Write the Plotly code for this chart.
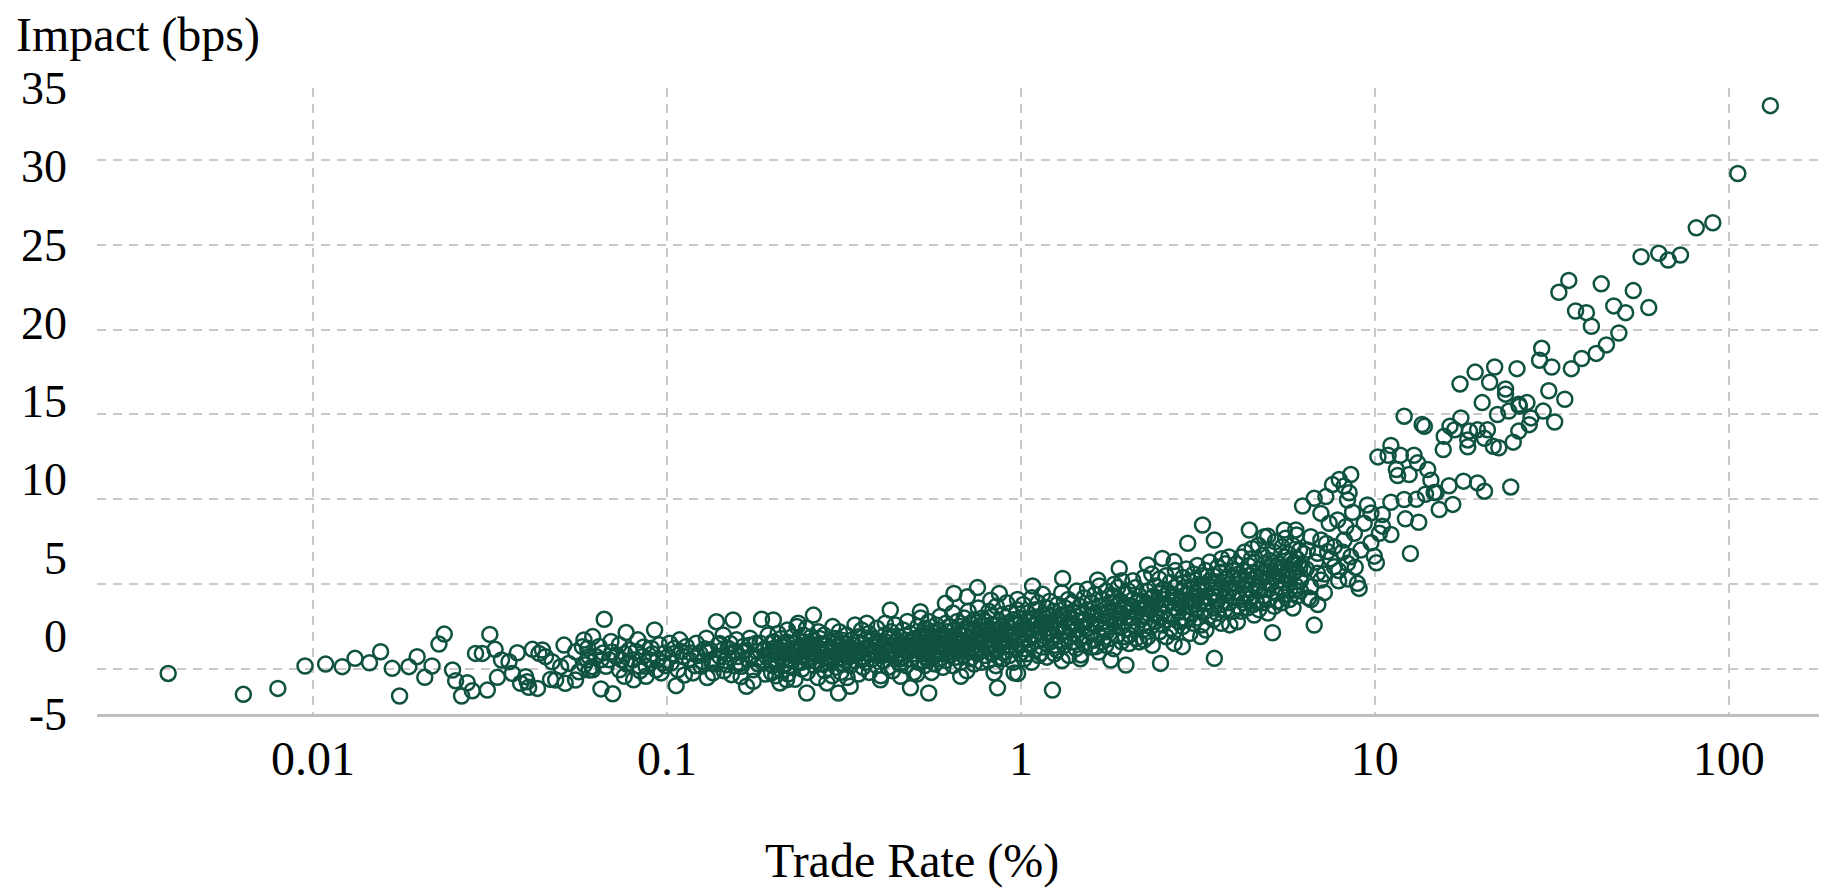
import plotly.graph_objects as go

# ---------------- data (trade rate %, impact bps) ----------------
sparse_left = [
    (0.0039, -0.26), (0.00636, -1.49), (0.00796, -1.14), (0.0095, 0.18), (0.01086, 0.29),
    (0.0121, 0.14), (0.01315, 0.63), (0.01445, 0.37), (0.01553, 1.02), (0.01675, 0.04),
    (0.01757, -1.59), (0.01867, 0.14), (0.0197, 0.73), (0.0207, -0.49), (0.0217, 0.18),
    (0.0227, 1.47), (0.0235, 2.06), (0.0248, -0.06), (0.0253, -0.69), (0.0263, -1.59),
    (0.0273, -0.81), (0.0282, -1.28), (0.0288, 0.92), (0.0301, 0.92), (0.0311, -1.24),
    (0.0316, 2.04), (0.0327, 1.16), (0.0332, -0.49), (0.0341, 0.53), (0.0358, 0.43),
    (0.0366, -0.26), (0.0378, 0.96), (0.0386, -0.84), (0.0399, -0.45), (0.0407, -1.08),
    (0.0417, 1.16), (0.0431, -1.14), (0.0445, 1.12), (0.0454, 0.73), (0.0469, -0.61),
    (0.0485, -0.65), (0.0501, 0.14), (0.0512, 1.41), (0.0528, 0.33), (0.0552, 1.02),
    (0.0564, -0.16), (0.0583, 1.71), (0.0596, 0.53), (0.0615, 0.14), (0.0435, 0.92),
    (0.0577, 1.32), (0.0603, -0.06), (0.0552, -0.65), (0.0516, -0.84), (0.0474, 0.43),
    (0.0403, -0.75),
]

band_a = [
    (0.0617, 1.91), (0.0597, 1.23), (0.0631, 0.74), (0.0585, 0.25), (0.0617, -0.04),
    (0.0665, 2.93), (0.0651, -1.17), (0.0703, -1.46), (0.0687, 0.55), (0.0734, -0.04),
    (0.0758, -0.43), (0.0767, 2.15), (0.0783, 1.13), (0.0801, 0.55), (0.0828, 1.72),
    (0.0855, 0.74), (0.0873, 0.16), (0.0903, 1.23), (0.0923, 2.30), (0.0942, 0.55),
    (0.0963, -0.23), (0.0985, 0.94), (0.0805, -0.63), (0.0873, -0.43), (0.0734, 1.43),
    (0.0695, 1.62), (0.0644, 1.33), (0.0673, 0.16), (0.0718, 0.74), (0.0836, 0.16),
    (0.0745, 0.55), (0.0894, 0.55), (0.0952, 1.43), (0.0974, 0.35), (0.0818, 1.04),
    (0.0933, -0.04), (0.0651, 0.55), (0.0603, 0.74), (0.0700, 1.0), (0.0770, 0.3),
    (0.0860, 1.3), (0.0910, 0.9), (0.0990, 0.2), (0.0760, 0.9), (0.0840, -0.1),
    (0.0660, 0.95),
]

band_b = [
    (0.1018, 1.52), (0.1051, 1.23), (0.1086, 1.72), (0.1110, 0.74), (0.1028, 0.35),
    (0.1074, -0.04), (0.1135, 1.33), (0.1159, 0.55), (0.1185, -0.23), (0.1211, 1.52),
    (0.1238, 0.94), (0.1250, 0.16), (0.1293, 1.82), (0.1322, 1.13), (0.1336, 0.55),
    (0.1350, -0.23), (0.1396, 1.43), (0.1411, 0.74), (0.1442, 2.01), (0.1473, 0.25),
    (0.1489, 1.23), (0.1521, -0.33), (0.1573, 1.72), (0.1589, 0.74), (0.1624, 0.16),
    (0.1641, 1.33), (0.1697, 0.55), (0.1715, 1.82), (0.1754, -0.04), (0.1792, 1.04),
    (0.1832, 1.52), (0.1871, 0.35), (0.1913, 0.74), (0.1933, 2.01), (0.1976, -0.23),
    (0.2020, 1.23), (0.2042, 0.55),
    (0.1380, 2.79), (0.1538, 2.89), (0.1851, 2.93), (0.1998, 2.89), (0.1062, -0.98),
    (0.1678, -1.02), (0.1754, -0.72), (0.2086, -0.82),
    (0.1100, 1.04), (0.1170, 0.94), (0.1260, 0.45), (0.1300, 1.0), (0.1430, 1.1),
    (0.1460, 0.5), (0.1550, 1.0), (0.1600, 0.3), (0.1660, 1.1), (0.1740, 0.8),
    (0.1810, 0.3), (0.1890, 1.2), (0.1950, 0.9), (0.1040, 0.9), (0.1200, 0.2),
    (0.1380, 0.3), (0.1510, 1.5), (0.1780, 1.5), (0.1990, 1.6), (0.1120, -0.35),
    (0.1300, -0.5), (0.1450, -0.1), (0.1620, -0.45), (0.1900, -0.3),
]

band_c = [
    (0.199, 0.2), (0.201, 1.6), (0.200, 0.9), (0.203, -0.4),
    (0.204, 1.1), (0.206, 2.1), (0.205, 0.4),
    (0.209, 0.7), (0.211, -0.1), (0.210, 1.8), (0.212, 1.3),
    (0.214, 1.5), (0.216, 0.3), (0.215, 0.9),
    (0.219, 2.3), (0.221, 1.0), (0.220, -0.3), (0.222, 0.6),
    (0.224, 0.1), (0.226, 1.9), (0.225, 1.2),
    (0.229, 0.8), (0.231, 1.5), (0.230, -0.6), (0.233, 2.5),
    (0.235, 1.3), (0.237, 0.4), (0.236, 1.0),
    (0.241, 0.0), (0.243, 2.0), (0.242, 0.7), (0.244, 1.6),
    (0.247, 1.1), (0.249, -0.2), (0.248, 2.4),
    (0.253, 0.5), (0.255, 1.4), (0.254, 0.9), (0.256, 1.9),
    (0.259, 1.7), (0.261, 0.2), (0.260, 1.0),
    (0.265, 0.8), (0.267, -0.5), (0.266, 1.3), (0.268, 2.2),
    (0.271, 1.5), (0.273, 0.3), (0.272, 0.9),
    (0.278, 2.0), (0.280, 1.1), (0.279, -0.1), (0.282, 0.6),
    (0.285, 0.4), (0.287, 1.6), (0.286, 1.2),
    (0.292, 1.0), (0.294, 2.5), (0.293, -0.4), (0.296, 0.7),
    (0.299, 1.8), (0.301, 0.1), (0.300, 1.3),
    (0.306, 0.6), (0.308, 1.1), (0.307, 2.2), (0.310, -0.2),
    (0.314, 1.5), (0.316, 0.3), (0.315, 0.9),
    (0.322, 2.0), (0.324, 1.2), (0.323, -0.5), (0.326, 0.7),
    (0.330, 0.2), (0.332, 1.7), (0.331, 1.0),
    (0.338, 1.4), (0.340, 2.6), (0.339, 0.5), (0.342, 0.9),
    (0.346, 1.1), (0.348, -0.3), (0.347, 1.9),
    (0.354, 0.7), (0.356, 1.5), (0.355, 2.3), (0.358, 0.1),
    (0.363, 1.2), (0.365, 0.4), (0.364, 1.7),
    (0.372, 2.1), (0.374, 0.9), (0.373, -0.2), (0.376, 1.4),
    (0.381, 0.6), (0.383, 1.8), (0.382, 1.1),
    (0.390, 1.3), (0.392, 2.4), (0.391, 0.2), (0.394, 0.8),
    (0.400, 1.6), (0.402, -0.4), (0.401, 1.0),
    (0.410, 0.5), (0.412, 2.0), (0.411, 1.3), (0.414, 2.7),
    (0.420, 1.1), (0.422, 0.1), (0.421, 1.8),
    (0.430, 2.2), (0.432, 0.8), (0.431, 1.4), (0.434, -0.1),
    (0.441, 0.6), (0.443, 1.6), (0.442, 2.6),
    (0.452, 1.2), (0.454, 0.3), (0.453, 1.9), (0.456, 0.9),
    (0.463, 1.5), (0.465, 2.3), (0.464, 0.7),
    (0.474, 0.2), (0.476, 1.1), (0.475, 1.7), (0.478, 2.8),
    (0.486, 1.4), (0.488, 0.6), (0.487, 2.1),
    (0.498, 0.9), (0.500, 1.8), (0.499, -0.2), (0.502, 1.2),
    (0.2594, 3.18), (0.2350, 2.70), (0.4276, 3.48), (0.3670, 2.70), (0.2483, -1.41),
    (0.3053, -1.41), (0.3296, -1.02), (0.2831, -0.82), (0.4876, -1.11), (0.2178, -0.63),
    (0.4009, -0.63), (0.4571, -0.43),
]

band_d = [
    (0.510, 1.6), (0.513, 0.4), (0.511, 2.5), (0.515, 1.1), (0.509, -0.3),
    (0.523, 2.0), (0.526, 0.9), (0.524, 1.4), (0.521, 3.0),
    (0.535, 0.2), (0.538, 1.8), (0.534, 1.2), (0.537, 2.4), (0.540, 0.7),
    (0.547, 1.5), (0.550, 2.8), (0.546, 0.5), (0.549, 1.0),
    (0.560, 2.2), (0.563, 1.3), (0.559, -0.2), (0.562, 1.9), (0.565, 0.8),
    (0.573, 1.1), (0.576, 2.6), (0.572, 0.3), (0.575, 1.6),
    (0.586, 1.8), (0.589, 0.6), (0.585, 2.3), (0.588, 1.3), (0.591, 3.1),
    (0.600, 0.9), (0.603, 2.0), (0.599, 1.5), (0.602, 0.1),
    (0.614, 2.7), (0.617, 1.2), (0.613, 0.5), (0.616, 1.8), (0.619, 2.2),
    (0.628, 1.6), (0.631, 0.8), (0.627, 2.5), (0.630, 1.0),
    (0.643, 0.2), (0.646, 1.9), (0.642, 3.3), (0.645, 1.3), (0.648, 2.3),
    (0.658, 1.5), (0.661, 2.8), (0.657, 0.7), (0.660, 1.1),
    (0.673, 2.1), (0.676, 0.4), (0.672, 1.7), (0.675, 2.5), (0.678, 1.0),
    (0.689, 1.3), (0.692, 3.0), (0.688, 0.8), (0.691, 2.0),
    (0.705, 2.4), (0.708, 1.5), (0.704, -0.1), (0.707, 1.0), (0.710, 3.4),
    (0.721, 0.6), (0.724, 1.9), (0.720, 2.7), (0.723, 1.2),
    (0.738, 2.2), (0.741, 1.6), (0.737, 0.3), (0.740, 2.9), (0.743, 1.0),
    (0.755, 1.4), (0.758, 3.6), (0.754, 0.9), (0.757, 2.0),
    (0.773, 2.5), (0.776, 1.1), (0.772, 1.8), (0.775, 0.4), (0.778, 3.0),
    (0.791, 1.6), (0.794, 2.3), (0.790, 0.8), (0.793, 2.8),
    (0.809, 1.2), (0.812, 3.4), (0.808, 2.0), (0.811, 0.5), (0.814, 1.7),
    (0.828, 2.6), (0.831, 1.4), (0.827, 0.9), (0.830, 3.1),
    (0.847, 1.9), (0.850, 0.2), (0.846, 2.3), (0.849, 1.1), (0.852, 3.7),
    (0.867, 1.5), (0.870, 2.8), (0.866, 0.7), (0.869, 2.0),
    (0.887, 3.2), (0.890, 1.3), (0.886, 2.5), (0.889, 0.6), (0.892, 1.8),
    (0.908, 2.1), (0.911, 3.9), (0.907, 1.0), (0.910, 2.7),
    (0.929, 1.4), (0.932, 2.4), (0.928, 0.8), (0.931, 3.3), (0.934, 1.9),
    (0.951, 2.9), (0.954, 1.6), (0.950, 2.2), (0.953, 0.4),
    (0.973, 1.2), (0.976, 3.5), (0.972, 2.6), (0.975, 1.8), (0.978, 4.1),
    (0.995, 2.3), (0.998, 0.9), (0.994, 3.0), (0.997, 1.5),
    (0.520, 3.38), (0.612, 3.87), (0.647, 4.45), (0.754, 4.80), (0.869, 4.45),
    (0.706, 4.26), (0.822, 4.06), (0.549, -1.41), (0.859, -1.11), (0.840, -0.23),
    (0.957, -0.23), (0.676, -0.43),
]

band_e = [
    (1.018, 2.6), (1.024, 1.2), (1.016, 3.8), (1.022, 0.6), (1.027, 2.1),
    (1.043, 3.3), (1.049, 1.8), (1.041, 0.9), (1.047, 2.8),
    (1.068, 1.5), (1.074, 4.2), (1.066, 2.3), (1.072, 0.4), (1.077, 3.0),
    (1.093, 2.0), (1.099, 3.5), (1.091, 1.1), (1.097, 2.6),
    (1.118, 3.9), (1.124, 1.7), (1.116, 2.9), (1.122, 0.8), (1.127, 2.2),
    (1.148, 1.3), (1.154, 3.2), (1.146, 2.5), (1.152, 4.4),
    (1.178, 2.7), (1.184, 0.7), (1.176, 1.9), (1.182, 3.6), (1.187, 2.2),
    (1.208, 3.1), (1.214, 1.6), (1.206, 4.0), (1.212, 2.4),
    (1.238, 2.0), (1.244, 0.9), (1.236, 3.4), (1.242, 2.8), (1.247, 1.4),
    (1.268, 3.8), (1.274, 2.3), (1.266, 1.1), (1.272, 2.9),
    (1.298, 1.7), (1.304, 4.5), (1.296, 2.6), (1.302, 3.2), (1.307, 0.5),
    (1.328, 2.2), (1.334, 3.6), (1.326, 1.4), (1.332, 2.9),
    (1.363, 3.0), (1.369, 1.9), (1.361, 4.1), (1.367, 0.8), (1.372, 2.5),
    (1.398, 1.6), (1.404, 3.4), (1.396, 2.7), (1.402, 3.9),
    (1.433, 2.3), (1.439, 4.6), (1.431, 1.2), (1.437, 3.1), (1.442, 2.0),
    (1.468, 3.7), (1.474, 2.8), (1.466, 1.8), (1.472, 0.6),
    (1.503, 2.5), (1.509, 4.2), (1.501, 3.3), (1.507, 1.5), (1.512, 2.9),
    (1.538, 1.9), (1.544, 3.5), (1.536, 2.4), (1.542, 4.7),
    (1.578, 3.1), (1.584, 1.3), (1.576, 2.7), (1.582, 3.9), (1.587, 2.1),
    (1.618, 4.4), (1.624, 2.6), (1.616, 1.7), (1.622, 3.3),
    (1.658, 2.0), (1.664, 3.7), (1.656, 2.9), (1.662, 1.0), (1.667, 4.9),
    (1.698, 3.2), (1.704, 2.3), (1.696, 4.1), (1.702, 1.6),
    (1.738, 2.8), (1.744, 3.6), (1.736, 1.4), (1.742, 4.6), (1.747, 2.2),
    (1.783, 3.9), (1.789, 2.5), (1.781, 3.1), (1.787, 1.8),
    (1.828, 1.2), (1.834, 3.4), (1.826, 4.3), (1.832, 2.7), (1.837, 5.0),
    (1.873, 2.9), (1.879, 3.8), (1.871, 2.0), (1.877, 4.8),
    (1.918, 3.3), (1.924, 1.6), (1.916, 4.0), (1.922, 2.5), (1.927, 5.2),
    (1.968, 4.4), (1.974, 2.8), (1.966, 3.5), (1.972, 1.9),
    (1.079, 4.89), (1.312, 5.34), (1.648, 5.25), (1.896, 5.93), (1.228, -1.24),
    (0.979, -0.26), (1.138, 0.92), (1.477, 0.83), (1.795, 0.53), (1.980, 0.24),
    (1.629, 1.32),
]

band_f = [
    (2.015, 3.4), (2.026, 2.0), (2.011, 4.6), (2.022, 1.5), (2.031, 3.0),
    (2.065, 2.6), (2.076, 4.1), (2.061, 3.7), (2.072, 5.2),
    (2.115, 1.8), (2.126, 3.3), (2.111, 4.8), (2.122, 2.5), (2.131, 3.9),
    (2.165, 4.3), (2.176, 2.9), (2.161, 1.6), (2.172, 3.6),
    (2.215, 3.1), (2.226, 5.4), (2.211, 2.3), (2.222, 4.0), (2.231, 2.7),
    (2.275, 3.8), (2.286, 1.9), (2.271, 4.6), (2.282, 3.3),
    (2.335, 2.5), (2.346, 4.2), (2.331, 3.5), (2.342, 5.6), (2.351, 1.4),
    (2.395, 3.9), (2.406, 2.8), (2.391, 4.9), (2.402, 3.2),
    (2.455, 4.5), (2.466, 2.2), (2.451, 3.6), (2.462, 5.3), (2.471, 3.0),
    (2.515, 3.3), (2.526, 4.7), (2.511, 2.6), (2.522, 4.1),
    (2.575, 1.9), (2.586, 3.8), (2.571, 5.5), (2.582, 2.9), (2.591, 4.4),
    (2.645, 4.0), (2.656, 3.1), (2.641, 5.1), (2.652, 2.4),
    (2.715, 3.6), (2.726, 4.8), (2.711, 2.2), (2.722, 4.3), (2.731, 5.8),
    (2.785, 2.8), (2.796, 3.9), (2.781, 5.0), (2.792, 3.4),
    (2.855, 4.6), (2.866, 3.0), (2.851, 4.0), (2.862, 2.5), (2.871, 5.4),
    (2.925, 3.7), (2.936, 5.9), (2.921, 4.4), (2.932, 2.9),
    (2.995, 4.1), (3.006, 3.3), (2.991, 5.2), (3.002, 2.1), (3.011, 4.7),
    (3.075, 5.6), (3.086, 3.8), (3.071, 2.7), (3.082, 4.5),
    (3.155, 3.0), (3.166, 4.3), (3.151, 6.1), (3.162, 3.6), (3.171, 5.0),
    (3.235, 4.9), (3.246, 2.6), (3.231, 4.0), (3.242, 5.5),
    (3.315, 3.4), (3.326, 5.8), (3.311, 4.6), (3.322, 3.9), (3.331, 2.3),
    (3.405, 4.2), (3.416, 5.2), (3.401, 3.1), (3.412, 6.3),
    (3.495, 5.5), (3.506, 3.6), (3.491, 4.8), (3.502, 2.9), (3.511, 4.3),
    (3.585, 4.0), (3.596, 6.0), (3.581, 3.3), (3.592, 5.1),
    (3.675, 4.7), (3.686, 3.8), (3.671, 5.7), (3.682, 2.7), (3.691, 6.5),
    (3.775, 5.3), (3.786, 4.4), (3.771, 3.5), (3.782, 6.2),
    (3.875, 3.9), (3.886, 5.0), (3.871, 6.6), (3.882, 4.6), (3.891, 2.6),
    (3.975, 5.8), (3.986, 4.2), (3.971, 3.4), (3.982, 5.4),
    (2.28, 6.13), (2.51, 6.52), (2.71, 6.33), (2.96, 7.41), (3.26, 8.49),
    (3.52, 7.60), (2.48, 0.33), (2.86, 1.32), (3.52, 0.63), (3.22, 1.91),
    (2.71, 1.51), (2.23, 1.71),
]

band_g = [
    (4.07, 5.0), (4.10, 3.7), (4.06, 6.2), (4.09, 4.5), (4.12, 5.6),
    (4.17, 4.1), (4.20, 6.6), (4.16, 5.3), (4.19, 3.4),
    (4.27, 5.8), (4.30, 4.7), (4.26, 3.9), (4.29, 6.9), (4.32, 5.2),
    (4.37, 4.4), (4.40, 6.1), (4.36, 3.6), (4.39, 5.5),
    (4.48, 6.5), (4.51, 5.0), (4.47, 4.2), (4.50, 7.1), (4.53, 3.8),
    (4.59, 5.4), (4.62, 4.0), (4.58, 6.3), (4.61, 4.8),
    (4.70, 3.5), (4.73, 5.9), (4.69, 7.3), (4.72, 4.6), (4.75, 5.2),
    (4.82, 6.7), (4.85, 4.3), (4.81, 5.6), (4.84, 3.9),
    (4.94, 5.1), (4.97, 7.0), (4.93, 4.7), (4.96, 6.0), (4.99, 3.3),
    (5.06, 4.2), (5.09, 5.8), (5.05, 6.4), (5.08, 5.0),
    (5.18, 6.9), (5.21, 4.5), (5.17, 5.4), (5.20, 3.7), (5.23, 7.5),
    (5.31, 5.2), (5.34, 6.2), (5.30, 4.0), (5.33, 5.7),
    (5.44, 4.8), (5.47, 7.2), (5.43, 6.0), (5.46, 3.9), (5.49, 5.5),
    (5.57, 6.6), (5.60, 4.4), (5.56, 5.1), (5.59, 7.7),
    (5.71, 5.9), (5.74, 4.1), (5.70, 6.8), (5.73, 5.3), (5.76, 4.7),
    (5.85, 7.3), (5.88, 5.6), (5.84, 6.2), (5.87, 3.6),
    (5.99, 4.9), (6.02, 6.5), (5.98, 5.8), (6.01, 7.9), (6.04, 4.3),
    (6.14, 6.0), (6.17, 5.2), (6.13, 7.0), (6.16, 4.6),
    (4.42, 8.19), (5.55, 8.19), (4.87, 7.80), (4.09, 2.79), (5.14, 2.14),
    (4.56, 3.18), (4.98, 7.83), (5.98, 8.2),
]

band_h = [
    (6.25, 9.61), (6.74, 10.06), (7.27, 10.16), (8.37, 9.96), (7.04, 9.17),
    (7.43, 8.59), (7.85, 8.78), (8.28, 8.39), (8.75, 8.00), (8.19, 7.60),
    (7.68, 7.21), (7.04, 7.60), (6.59, 7.80), (6.45, 7.01), (6.89, 6.82),
    (7.35, 6.92), (8.55, 6.62), (9.13, 7.01), (8.37, 6.23), (8.93, 5.05),
    (9.03, 4.75), (9.53, 9.67), (9.33, 8.59), (5.92, 6.23), (6.18, 5.44),
    (6.89, 5.64), (7.68, 6.03), (6.59, 4.85), (7.04, 5.25), (5.92, 4.66),
    (6.74, 2.59), (8.65, 9.24), (6.4, 5.9), (6.6, 4.1), (6.8, 6.3),
    (7.2, 5.6), (7.5, 6.5), (7.9, 5.8), (8.1, 6.9), (8.4, 5.3),
    (8.8, 6.0), (6.3, 6.8), (7.3, 7.4), (6.5, 4.2), (7.2, 4.5),
    (7.9, 5.2), (6.9, 3.8), (8.55, 11.46), (7.93, 11.17), (7.59, 10.87),
    (8.19, 10.78), (8.46, 10.39), (9.75, 9.2),
]

core_extra = [
    (0.122, 0.8), (0.128, 1.2), (0.134, 0.4), (0.141, 1.5), (0.149, 0.9), (0.156, 0.2),
    (0.163, 1.0), (0.171, 1.4), (0.179, 0.6), (0.188, 1.1), (0.196, 0.5),
    (0.207, 1.2), (0.213, 0.6), (0.218, 1.6), (0.227, 0.8), (0.234, 1.1), (0.240, 0.4),
    (0.246, 1.4), (0.252, 0.7), (0.258, 1.2), (0.264, 0.5), (0.270, 1.8), (0.276, 0.9),
    (0.283, 1.4), (0.290, 0.6), (0.297, 1.5), (0.304, 0.9), (0.312, 1.7), (0.319, 0.5),
    (0.327, 1.3), (0.335, 0.8), (0.344, 1.6), (0.352, 1.0), (0.360, 0.6), (0.369, 1.3),
    (0.378, 1.7), (0.387, 0.9), (0.396, 1.5), (0.406, 0.8), (0.416, 1.6), (0.426, 1.0),
    (0.437, 1.9), (0.448, 1.3), (0.459, 0.6), (0.470, 1.4), (0.482, 1.0), (0.494, 1.6),
    (0.518, 1.9), (0.530, 1.2), (0.543, 2.1), (0.556, 1.5), (0.569, 1.9), (0.582, 1.0),
    (0.595, 2.0), (0.608, 1.4), (0.622, 1.9), (0.636, 1.2), (0.651, 1.7), (0.666, 2.1),
    (0.682, 1.5), (0.698, 2.4), (0.714, 1.8), (0.731, 1.3), (0.748, 2.4), (0.765, 1.7),
    (0.783, 2.0), (0.801, 1.4), (0.819, 2.2), (0.838, 1.7), (0.858, 2.6), (0.878, 2.2),
    (0.898, 1.6), (0.919, 2.5), (0.941, 1.9), (0.963, 2.7), (0.985, 2.0),
    (1.03, 2.4), (1.08, 2.9), (1.13, 2.5), (1.17, 3.0), (1.22, 2.7), (1.26, 2.4),
    (1.32, 3.1), (1.38, 2.7), (1.45, 3.3), (1.52, 2.9), (1.60, 3.2), (1.68, 2.7),
    (1.76, 3.4), (1.86, 3.0), (1.95, 3.6),
    (2.05, 3.5), (2.15, 4.0), (2.25, 3.6), (2.37, 4.3), (2.49, 3.8), (2.62, 4.5),
    (2.75, 4.1), (2.90, 4.8), (3.04, 4.0), (3.20, 4.6), (3.36, 5.0), (3.55, 4.5),
    (3.73, 5.1), (3.93, 4.8),
    (4.12, 5.3), (4.34, 5.0), (4.55, 5.7), (4.78, 5.4), (5.02, 5.6), (5.26, 6.0),
    (5.52, 5.8), (5.79, 6.4), (6.08, 6.2),
]

upper_mid = [
    (25.6, 15.49), (23.9, 15.2), (22.2, 15.0), (29.9, 15.2), (27.6, 14.8),
    (27.3, 14.4), (32.2, 14.56), (25.5, 14.02), (24.6, 13.37), (22.4, 13.04),
    (21.6, 13.13), (12.1, 14.9), (13.6, 14.41), (13.8, 14.3), (17.5, 14.8),
    (16.3, 14.31), (16.8, 14.1), (15.7, 13.72), (15.6, 12.93), (18.5, 14.02),
    (19.5, 14.1), (20.8, 14.1), (18.3, 13.5), (18.3, 13.1), (20.4, 13.6),
    (17.8, 11.07), (19.5, 10.97), (20.4, 10.48), (24.2, 10.73), (16.2, 10.8),
    (14.7, 10.4), (16.6, 9.7), (15.2, 9.4), (11.1, 13.17), (10.2, 12.5),
    (10.9, 12.6), (11.8, 12.6), (12.9, 12.6), (13.2, 12.15), (11.5, 11.76),
    (11.6, 11.4), (12.5, 11.46), (14.1, 11.76), (14.4, 11.13), (14.9, 10.4),
    (11.1, 9.83), (12.1, 9.99), (13.1, 10.0), (13.9, 10.3), (12.2, 8.85),
    (13.3, 8.65), (12.6, 6.81), (10.5, 9.11), (10.5, 8.42), (11.1, 7.93),
    (10.3, 8.0), (9.75, 7.44), (9.96, 6.65), (10.1, 6.26),
]

upper_top = [
    (131, 33.2), (106, 29.2), (90.1, 26.3), (80.9, 26.0), (73.0, 24.4),
    (67.4, 24.1), (63.4, 24.5), (56.5, 24.3), (59.4, 21.3), (53.7, 22.3),
    (51.1, 21.0), (47.3, 21.4), (43.6, 22.7), (35.3, 22.9), (33.1, 22.2),
    (36.9, 21.1), (39.6, 21.0), (40.9, 20.2), (48.9, 19.8), (45.1, 19.1),
    (42.2, 18.6), (38.4, 18.3), (35.9, 17.7), (29.6, 18.9), (29.2, 18.2),
    (31.6, 17.8), (25.2, 17.7), (21.8, 17.8), (19.2, 17.5), (17.4, 16.8),
    (21.1, 16.9), (23.4, 16.5), (31.0, 16.4), (34.4, 15.9), (20.1, 15.7),
    (26.9, 15.7), (23.4, 16.2), (25.5, 15.6),
]

x_tick_vals = [0.01, 0.1, 1, 10, 100]
x_tick_text = ["0.01", "0.1", "1", "10", "100"]
y_grid_vals = [0, 5, 10, 15, 20, 25, 30]
y_label_vals = [-5, 0, 5, 10, 15, 20, 25, 30, 35]
y_label_text = ["-5", "0", "5", "10", "15", "20", "25", "30", "35"]

groups = [sparse_left, band_a, band_b, band_c, band_d, band_e, band_f, band_g,
          band_h, core_extra, upper_mid, upper_top]
trade_rate = [p[0] for g in groups for p in g]
impact = [p[1] for g in groups for p in g]

# ---------------- styling ----------------
FONT = "Liberation Serif, Times New Roman, serif"
GREEN = "#0f5241"
GRID = "#c9c9c9"
DASH = "9px,7px"

fig = go.Figure()
fig.add_trace(go.Scatter(
    x=trade_rate, y=impact, mode="markers",
    marker=dict(symbol="circle-open", size=15, color=GREEN, line=dict(width=2.5, color=GREEN)),
    showlegend=False, hoverinfo="skip",
))
fig.add_trace(go.Scatter(x=[None], y=[None], yaxis="y2", mode="markers",
                         showlegend=False, hoverinfo="skip"))

# the page body keeps an 8px margin, so the figure is 8px smaller than the window
fig.update_layout(
    width=1819, height=881,
    margin=dict(l=89, r=4, t=80, b=175, autoexpand=False),
    paper_bgcolor="white", plot_bgcolor="white",
    font=dict(family=FONT, color="black", size=48),
    xaxis=dict(
        type="log", range=[-2.61, 2.266], automargin=False,
        tickvals=x_tick_vals, ticktext=x_tick_text,
        showgrid=True, gridcolor=GRID, gridwidth=2, griddash=DASH,
        showline=True, linecolor="#bfbfbf", linewidth=3,
        zeroline=False, ticks="", tickfont=dict(family=FONT, size=48, color="black"),
        ticklabelstandoff=0,
    ),
    yaxis=dict(
        range=[-2.65, 34.24], tickvals=y_grid_vals, showticklabels=False, automargin=False,
        showgrid=True, gridcolor=GRID, gridwidth=2, griddash=DASH,
        zeroline=False, showline=False, ticks="",
    ),
    yaxis2=dict(
        overlaying="y", side="left", range=[-5, 35], automargin=False,
        tickvals=y_label_vals, ticktext=y_label_text,
        showgrid=False, zeroline=False, showline=False, ticks="",
        tickfont=dict(family=FONT, size=46, color="black"),
        ticklabelstandoff=29,
    ),
    annotations=[
        dict(text="Impact (bps)", xref="paper", yref="paper", x=-0.048, y=1.084,
             xanchor="left", yanchor="middle", showarrow=False,
             font=dict(family=FONT, size=48, color="black")),
        dict(text="Trade Rate (%)", xref="paper", yref="paper", x=0.4722, y=-0.235,
             xanchor="center", yanchor="middle", showarrow=False,
             font=dict(family=FONT, size=48, color="black")),
    ],
)

fig.write_html("out.html", config={"displayModeBar": False})
